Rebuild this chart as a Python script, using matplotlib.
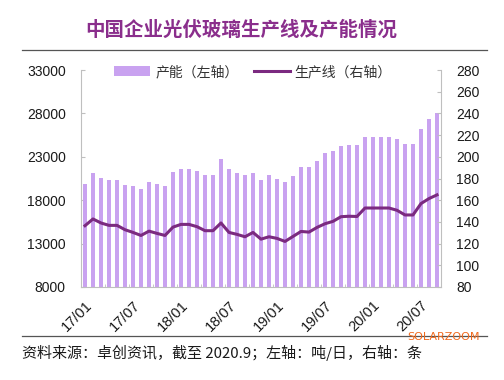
import matplotlib
matplotlib.use("Agg")
import matplotlib.pyplot as plt
import numpy as np

plt.rcParams['font.family'] = ['Liberation Sans', 'Noto Sans CJK SC', 'DejaVu Sans']

# ---- data ----
months = [f"{y}/{m:02d}" for y in (17, 18, 19, 20) for m in range(1, 13)][:45]
capacity = [19900, 21100, 20600, 20300, 20300, 19800, 19600, 19300, 20100, 19870,
            19640, 21250, 21560, 21560, 21330, 20870, 20870, 22750, 21560, 21170,
            20900, 21170, 20360, 20870, 20400, 20120, 20800, 21800, 21800, 22500,
            23400, 23720, 24240, 24400, 24400, 25320, 25320, 25320, 25320, 25050,
            24420, 24420, 26200, 27330, 28050]
lines = [136.5, 142.7, 139.0, 136.8, 136.8, 132.8, 130.3, 127.5, 131.5, 129.4,
         127.5, 135.2, 137.7, 137.7, 135.6, 131.9, 131.9, 139.0, 130.3, 128.5,
         126.3, 130.3, 124.1, 126.3, 124.8, 122.0, 126.6, 131.2, 130.6, 134.9,
         138.3, 140.5, 144.8, 145.2, 145.0, 152.8, 152.8, 152.8, 152.8, 150.7,
         146.4, 146.4, 156.9, 161.5, 164.9]
left_ticks = [8000, 13000, 18000, 23000, 28000, 33000]
right_ticks = [80, 100, 120, 140, 160, 180, 200, 220, 240, 260, 280]
xtick_idx = list(range(0, 45, 6))

title = "中国企业光伏玻璃生产线及产能情况"
source = "资料来源：卓创资讯，截至 2020.9；左轴：吨/日，右轴：条"
legend_labels = ["产能（左轴）", "生产线（右轴）"]

bar_color = "#C9A2F0"
line_color = "#7B2A80"
spine_color = "#BFBFBF"
text_color = "#1a1a1a"

fig = plt.figure(figsize=(5.04, 3.80), dpi=100)
ax = fig.add_axes([81/504, 1-287/380, 360/504, 217/380])
ax2 = ax.twinx()

x = np.arange(len(capacity))
b = ax.bar(x, capacity, width=0.42, color=bar_color, zorder=2)
l, = ax2.plot(x, lines, color=line_color, lw=2.2, zorder=3, solid_joinstyle='round')

ax.set_xlim(-0.45, len(capacity) - 0.55)
ax.set_ylim(8000, 33000)
ax2.set_ylim(80, 280)
ax.set_yticks(left_ticks)
ax2.set_yticks(right_ticks)
ax.set_xticks(xtick_idx)
ax.set_xticklabels([months[i] for i in xtick_idx], rotation=45, ha='right',
                   va='top', rotation_mode='anchor')
ax.set_xticks(np.arange(-0.5, len(capacity), 3), minor=True)

for a in (ax, ax2):
    a.set_zorder(1)
    a.patch.set_visible(False)
    a.spines['top'].set_visible(False)
    for s in ('left', 'right', 'bottom'):
        a.spines[s].set_color(spine_color)
        a.spines[s].set_linewidth(0.8)
ax.spines['right'].set_visible(False)
ax2.spines['left'].set_visible(False)
ax2.spines['bottom'].set_visible(False)

ax.tick_params(axis='y', direction='in', length=3, color=spine_color,
               labelsize=10, labelcolor=text_color, pad=11)
ax2.tick_params(axis='y', direction='in', length=3, color=spine_color,
                labelsize=10, labelcolor=text_color, pad=11)
ax.tick_params(axis='x', which='major', length=0, labelsize=10.5,
               labelcolor=text_color, pad=8)
ax.tick_params(axis='x', which='minor', direction='in', length=2, color=spine_color)

leg = fig.legend([b, l], legend_labels, loc='center', bbox_to_anchor=(0.502, 1-72/380),
                 ncol=2, frameon=False, handlelength=2.6, handletextpad=0.35,
                 columnspacing=1.1, prop={'family': ['Noto Sans CJK SC'], 'size': 10})
for t in leg.get_texts():
    t.set_color("#333333")

fig.text(241/504, 1-30/380, title, ha='center', va='center', fontsize=14,
         fontweight='bold', color="#8A2E8C", family=['Noto Sans CJK SC'])
fig.add_artist(plt.Line2D([22/504, 487/504], [1-50/380, 1-50/380],
                          color="#555555", lw=0.9, transform=fig.transFigure))
fig.add_artist(plt.Line2D([22/504, 487/504], [1-336/380, 1-336/380],
                          color="#555555", lw=0.9, transform=fig.transFigure))
fig.text(22/504, 1-353/380, source, ha='left', va='center', fontsize=10.8,
         color=text_color, family=['Noto Sans CJK SC', 'DejaVu Sans'])
fig.text(444/504, 1-337/380, "SOLARZOOM", ha='center', va='center', fontsize=8,
         color="#F06A1E", family=['DejaVu Sans'])

fig.savefig("out.png", dpi=100)
